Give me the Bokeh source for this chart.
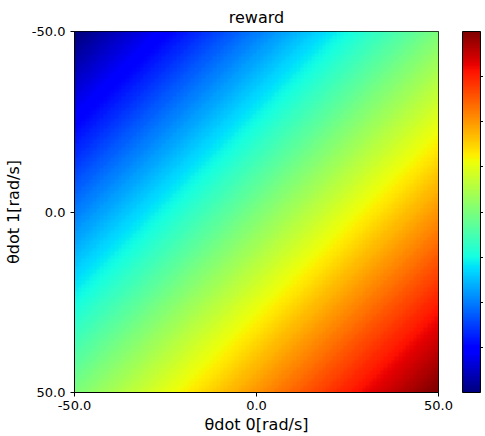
import numpy as np
from bokeh.plotting import figure
from bokeh.models import (LinearColorMapper, ColorBar, FixedTicker, Range1d,
                          PrintfTickFormatter)
from bokeh.embed import file_html
from bokeh.resources import INLINE

# ---- data ----
theta_dot0_limits = [-50.0, 50.0]     # x extent [rad/s]
theta_dot1_limits = [-50.0, 50.0]     # y extent [rad/s] (top = -50)
n_cells = 100                          # image resolution per axis
reward_limits = [-100.0, 100.0]        # colour scale
x_ticks = [-50.0, 0.0, 50.0]
y_ticks = [-50.0, 0.0, 50.0]
cbar_ticks = [-75, -50, -25, 0, 25, 50, 75]

# reward grows linearly along the diagonal: reward = theta_dot0 + theta_dot1
td0 = np.linspace(theta_dot0_limits[0], theta_dot0_limits[1], n_cells)
td1 = np.linspace(theta_dot1_limits[0], theta_dot1_limits[1], n_cells)
reward = td1[:, None] + td0[None, :]

# ---- jet palette (matplotlib segment data) ----
def _seg(pts, t):
    xs = [p[0] for p in pts]
    ys = [p[1] for p in pts]
    return np.interp(t, xs, ys)

t = np.linspace(0, 1, 256)
r = _seg([(0, 0), (0.35, 0), (0.66, 1), (0.89, 1), (1, 0.5)], t)
g = _seg([(0, 0), (0.125, 0), (0.375, 1), (0.64, 1), (0.91, 0), (1, 0)], t)
b = _seg([(0, 0.5), (0.11, 1), (0.34, 1), (0.65, 0), (1, 0)], t)
jet = ["#%02x%02x%02x" % (int(round(rr * 255)), int(round(gg * 255)), int(round(bb * 255)))
       for rr, gg, bb in zip(r, g, b)]

mapper = LinearColorMapper(palette=jet, low=reward_limits[0], high=reward_limits[1])

FONT = "DejaVu Sans"

p = figure(frame_width=364, frame_height=361, output_backend="svg", toolbar_location=None,
           x_range=Range1d(theta_dot0_limits[0], theta_dot0_limits[1]),
           y_range=Range1d(theta_dot1_limits[1], theta_dot1_limits[0]),
           title="reward",
           min_border_left=68, min_border_right=45, min_border_top=23,
           min_border_bottom=44)

p.image(image=[reward], x=theta_dot0_limits[0], y=theta_dot1_limits[0],
        dw=theta_dot0_limits[1] - theta_dot0_limits[0],
        dh=theta_dot1_limits[1] - theta_dot1_limits[0],
        color_mapper=mapper)

p.title.align = "center"
p.title.text_font = FONT
p.title.text_font_size = "16px"
p.title.text_font_style = "normal"
p.title.text_color = "black"

p.grid.visible = False
p.outline_line_color = "black"
p.outline_line_alpha = 1.0

for ax, ticks in ((p.xaxis[0], x_ticks), (p.yaxis[0], y_ticks)):
    ax.ticker = FixedTicker(ticks=ticks)
    ax.formatter = PrintfTickFormatter(format="%.1f")
    ax.axis_label_text_font = FONT
    ax.axis_label_text_font_size = "16px"
    ax.axis_label_text_font_style = "normal"
    ax.axis_label_text_color = "black"
    ax.major_label_text_font = FONT
    ax.major_label_text_font_size = "13px"
    ax.major_label_text_color = "black"
    ax.major_tick_in = 0
    ax.major_tick_out = 4
    ax.major_tick_line_color = "black"
    ax.minor_tick_line_color = None
    ax.axis_line_color = "black"

p.yaxis.axis_label = "θdot 1[rad/s]"
p.yaxis.axis_label_standoff = 6
p.xaxis.axis_label = "θdot 0[rad/s]"
p.xaxis.major_label_standoff = 4
p.xaxis.axis_label_standoff = 2

cb = ColorBar(color_mapper=mapper, ticker=FixedTicker(ticks=cbar_ticks),
              major_label_overrides={t_: "" for t_ in cbar_ticks},
              width=18, height=361, padding=5, margin=0, location=(383, -5),
              major_tick_in=0, major_tick_out=4, major_tick_line_color="black",
              major_tick_line_width=1,
              minor_tick_line_color=None, label_standoff=0,
              bar_line_color="black", bar_line_width=1,
              border_line_color=None, background_fill_alpha=0)
p.add_layout(cb)

open("out.html", "w").write(file_html(p, INLINE))
